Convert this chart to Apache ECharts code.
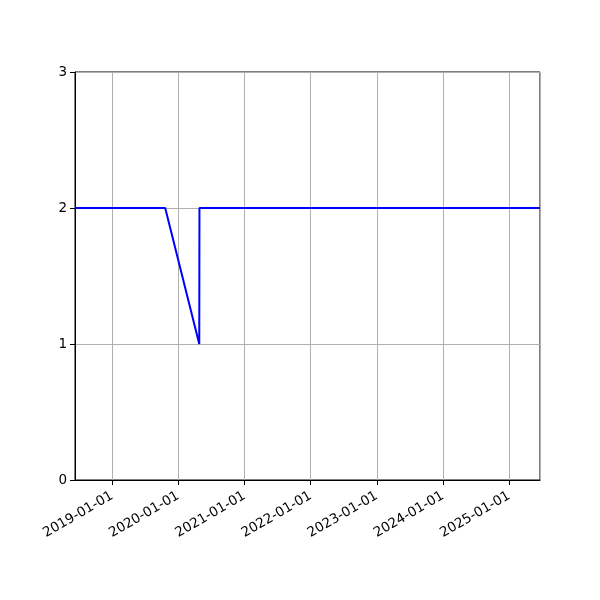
<!DOCTYPE html>
<html>
<head>
<meta charset="utf-8">
<script src="https://cdn.jsdelivr.net/npm/echarts@6/dist/echarts.min.js"></script>
<style>
html, body { margin: 0; padding: 0; background: #fff; }
#main { width: 600px; height: 600px; }
</style>
</head>
<body>
<div id="main"></div>
<script>
var dates = ['2018-06-10', '2019-10-21', '2020-04-26', '2020-04-27', '2025-06-20'];
var values = [2, 2, 1, 2, 2];
var yTicks = [0, 1, 2, 3];

var DAY = 24 * 3600 * 1000;

function toTime(s) {
	var p = s.split('-');
	return new Date(+p[0], +p[1] - 1, +p[2]).getTime();
}

var points = [];
for (var i = 0; i < dates.length; i++) {
	points.push([toTime(dates[i]), values[i]]);
}

var myChart = echarts.init(document.getElementById('main'));
var option = {
	animation: false,
	grid: {
		left: 75, right: 60, top: 72, bottom: 120,
		show: true, borderColor: '#000', borderWidth: 1
	},
	xAxis: {
		type: 'time',
		min: toTime(dates[0]),
		max: toTime(dates[dates.length - 1]),
		minInterval: 365 * DAY,
		maxInterval: 366 * DAY,
		axisLine: { lineStyle: { color: '#000', width: 1 } },
		axisTick: { show: true, length: 5, lineStyle: { color: '#000' } },
		axisLabel: {
			rotate: 30,
			color: '#000',
			fontFamily: 'DejaVu Sans',
			fontSize: 13.5,
			margin: 15,
			hideOverlap: false,
			showMinLabel: false,
			showMaxLabel: false,
			formatter: '{yyyy}-{MM}-{dd}'
		},
		splitLine: { show: true, lineStyle: { color: '#b0b0b0', width: 1 } }
	},
	yAxis: {
		type: 'value',
		min: yTicks[0],
		max: yTicks[yTicks.length - 1],
		interval: 1,
		axisLine: { show: true, lineStyle: { color: '#000', width: 1 } },
		axisTick: { show: true, length: 5, lineStyle: { color: '#000' } },
		axisLabel: { color: '#000', fontFamily: 'DejaVu Sans', fontSize: 13.5, margin: 8 },
		splitLine: { show: true, lineStyle: { color: '#b0b0b0', width: 1 } }
	},
	series: [{
		type: 'line',
		data: points,
		showSymbol: false,
		lineStyle: { color: '#0000ff', width: 2 },
		itemStyle: { color: '#0000ff' }
	}]
};
myChart.setOption(option);
</script>
</body>
</html>
